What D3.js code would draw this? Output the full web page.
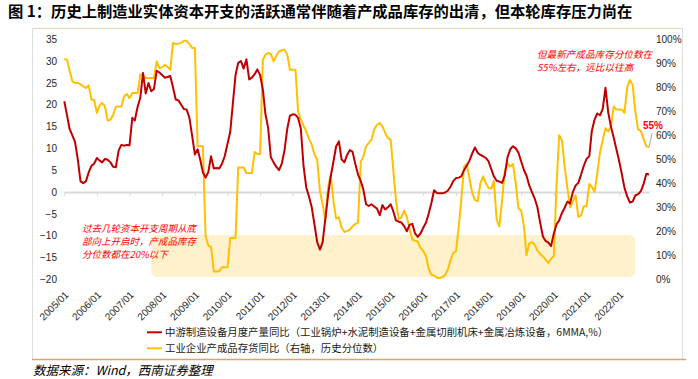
<!DOCTYPE html>
<html>
<head>
<meta charset="utf-8">
<style>
  body { margin: 0; background: #fff; }
  svg { display: block; }
</style>
</head>
<body>
<svg width="698" height="379"></svg>
<script src="https://d3js.org/d3.v7.min.js"></script>
<script>
// monthly, 2005/01 .. 2022/12
var months = d3.timeMonth.range(new Date(2005, 0, 1), new Date(2023, 0, 1));

var yearLabels = ["2005/01","2006/01","2007/01","2008/01","2009/01","2010/01","2011/01","2012/01","2013/01",
  "2014/01","2015/01","2016/01","2017/01","2018/01","2019/01","2020/01","2021/01","2022/01"];

// 中游制造设备月度产量同比 (6MMA, %) - left axis
var equipYoY = [
  20.8,17.5,14.5,13,11.5,7.5,2.5,2.0,2.5,4.5,6,6.5,
  7.8,7.2,6.8,7.6,7.4,6.8,5.8,5.7,9.5,10.8,10.6,10.8,
  10.7,17.0,16.4,19.5,21.6,27.3,22.6,25.0,23.1,23.6,27.8,27.4,
  26.8,26.2,26.4,26.6,24.0,21.2,21.0,20.0,19.0,18.9,17.0,13.0,
  8.6,9.8,7.5,4.5,3.3,4.6,8.2,5.4,5.5,5.4,6.5,8.2,
  11.0,13.8,20.0,26.8,29.6,30.0,28.3,30.4,25.8,26.2,27.0,28.1,
  26.8,23.5,18.0,14.7,8.0,6.8,5.8,5.0,6.5,9.5,14.5,17.5,
  17.8,17.7,17.0,14.5,6.0,1.0,-1.0,-3.5,-7.5,-11.5,-13.2,-11.5,
  -6.0,-0.5,3.5,7.0,10.5,11.6,7.5,6.8,8.5,9.6,9.2,6.5,
  4.0,2.5,0.6,-2.8,-3.2,-2.8,-3.3,-3.8,-5.3,-3.0,-4.0,-3.5,
  -2.8,-4.5,-6.5,-6.8,-7.0,-7.8,-9.0,-7.5,-7.3,-9.5,-10.3,-9.5,
  -8.2,-7.0,-5.0,-2.5,0.4,-0.2,-0.3,-0.3,-0.1,0.3,1.2,2.5,
  3.2,3.3,3.6,5.0,6.0,7.2,8.8,10.2,9.0,8.5,8.2,7.8,
  7.0,5.2,3.6,2.6,2.4,2.1,3.8,8.0,9.8,10.5,10.0,9.0,
  7.0,5.0,3.8,1.5,0.0,-1.5,-3.5,-7.0,-10.2,-11.2,-11.6,-12.4,
  -9.5,-7.4,-6.5,-4.8,-3.6,-2.2,-2.6,0.0,1.5,2.1,4.0,6.0,
  7.6,8.2,14.0,16.6,18.0,17.6,19.0,23.9,18.2,15.0,12.5,9.8,
  7.1,4.0,1.0,-1.0,-2.4,-2.2,-0.8,-0.5,0.2,1.8,4.2,4.0
];

// 工业企业产成品存货同比 历史分位数 (%) - right axis
var inventoryPct = [
  91.8,91.5,87,82.5,81.8,81.8,81.2,80.4,79.7,80.8,74.8,74.8,
  69.3,72.5,73.5,72.0,66.1,66.5,68.5,71.8,72.0,72.0,76.2,77.2,
  75.5,77.6,77.6,77.6,85.3,85.0,83.9,83.9,83.9,83.9,90.8,88.0,
  88.3,89.4,88.5,87.3,98.5,98.0,98.2,98.5,99.4,99.4,98.0,96.4,
  96.4,55.4,55.4,55.4,17.9,14.0,13.5,3.3,3.3,3.4,5.0,5.0,
  5.0,17.2,17.2,17.2,46.6,46.6,46.6,44.3,44.3,44.3,53.0,52.2,
  52.2,91.5,93.5,94.3,93.9,90.8,93.0,95.0,95.5,95.7,93.6,87.3,
  87.3,87.3,70.0,66.5,64.0,61.6,58.5,56.1,52.0,49.8,36.6,31.1,
  24.8,38.7,43.6,32.5,25.3,25.8,21.5,19.7,20.2,20.7,22.1,23.0,
  23.7,49.1,51.0,55.4,56.8,58.2,62.5,64.4,65.1,63.7,61.0,58.9,
  58.2,45.0,33.0,25.0,25.8,28.6,26.0,21.0,16.5,16.1,15.8,13.0,
  11.9,9.5,4.5,1.9,1.6,0.6,0.5,0.8,1.8,4.0,8.0,10.9,
  11.6,22.0,33.0,47.0,48.0,42.0,36.0,33.0,32.5,40.0,42.9,40.0,
  38.0,37.8,41.0,25.0,22.0,33.0,45.0,48.4,47.0,48.0,40.0,29.5,
  28.6,22.0,10.0,15.0,15.5,14.4,12.0,10.5,9.6,8.2,6.8,8.5,
  9.6,40.0,60.0,58.0,47.0,38.0,30.0,32.5,35.0,26.0,26.5,30.4,
  30.4,39.7,38.5,36.5,44.0,53.0,58.0,63.0,61.6,63.7,72.0,70.7,
  70.7,70.6,69.3,80.0,83.0,81.0,70.0,62.5,61.8,58.5,55.5,55.0
];

var leftTicks = [-20,-15,-10,-5,0,5,10,15,20,25,30,35];
var rightTicks = [0,10,20,30,40,50,60,70,80,90,100];

var seriesNames = [
  "中游制造设备月度产量同比（工业锅炉+水泥制造设备+金属切削机床+金属冶炼设备，6MMA,%）",
  "工业企业产成品存货同比（右轴，历史分位数）"
];
var colors = ["#C00000", "#FFC000"];

var titleText = "图 1：历史上制造业实体资本开支的活跃通常伴随着产成品库存的出清，但本轮库存压力尚在";
var noteLeft = ["过去几轮资本开支周期从底", "部向上开启时，产成品库存", "分位数都在20%以下"];
var noteRight = ["但最新产成品库存分位数在", "55%左右，远比以往高"];
var sourceText = "数据来源：Wind，西南证券整理";

var cjk = "'Noto Sans CJK SC', sans-serif";
var latin = "'Liberation Sans', Arial, sans-serif";

var svg = d3.select("svg");

var x = d3.scaleTime()
    .domain([months[0], months[months.length - 1]])
    .range([64.3, 649]);
var yL = d3.scaleLinear().domain([-20, 35]).range([279.3, 39.3]);
var yR = d3.scaleLinear().domain([0, 100]).range([279.3, 39.3]);

// title
svg.append("text")
    .attr("x", 8).attr("y", 17)
    .style("font-family", cjk).style("font-size", "15.3px").style("font-weight", "bold")
    .attr("fill", "#000")
    .text(titleText);

// frame
svg.append("line").attr("x1", 32).attr("x2", 682).attr("y1", 28.5).attr("y2", 28.5)
    .attr("stroke", "#E6D4B6").attr("stroke-width", 1);
svg.append("line").attr("x1", 32.5).attr("x2", 32.5).attr("y1", 28).attr("y2", 359)
    .attr("stroke", "#DDDDDD").attr("stroke-width", 1);
svg.append("line").attr("x1", 682.5).attr("x2", 682.5).attr("y1", 28).attr("y2", 359)
    .attr("stroke", "#DDDDDD").attr("stroke-width", 1);
svg.append("line").attr("x1", 32).attr("x2", 686).attr("y1", 359.5).attr("y2", 359.5)
    .attr("stroke", "#D8A56C").attr("stroke-width", 1.6);

// shaded zone: low inventory percentile
svg.append("rect")
    .attr("x", x(new Date(2007, 8, 1)))
    .attr("width", x(new Date(2022, 6, 1)) - x(new Date(2007, 8, 1)))
    .attr("y", yR(18.5))
    .attr("height", yR(1) - yR(18.5))
    .attr("rx", 6)
    .attr("fill", "#FFF1CC");

// zero axis with year ticks
var zeroAxis = svg.append("g")
    .attr("transform", "translate(0," + yL(0) + ")")
    .call(d3.axisBottom(x).ticks(d3.timeYear.every(1)).tickSize(4).tickSizeOuter(0).tickFormat(""));
zeroAxis.select(".domain").attr("stroke", "#D9D9D9").attr("stroke-width", 2);
zeroAxis.selectAll(".tick line").attr("stroke", "#D9D9D9").attr("stroke-width", 1);

// year labels at bottom
var yearTicks = yearLabels.map(function(s) {
  var p = s.split("/");
  return new Date(+p[0], +p[1] - 1, 1);
});
var xLab = svg.append("g")
    .attr("transform", "translate(0," + 289 + ")")
    .call(d3.axisBottom(x).tickValues(yearTicks).tickSize(0).tickPadding(0)
      .tickFormat(function(d, i) { return yearLabels[i]; }));
xLab.select(".domain").remove();
xLab.selectAll("text")
    .attr("y", 0).attr("dy", "0.35em").attr("x", 0)
    .attr("transform", "translate(2,4) rotate(-45)")
    .style("text-anchor", "end")
    .style("font-family", latin).style("font-size", "10px")
    .attr("fill", "#262626");

// left axis
var axL = svg.append("g")
    .attr("transform", "translate(60,0)")
    .call(d3.axisLeft(yL).tickValues(leftTicks).tickSize(0).tickPadding(3));
axL.select(".domain").remove();
axL.selectAll("text").style("font-family", latin).style("font-size", "10px").attr("fill", "#262626");

// right axis
var axR = svg.append("g")
    .attr("transform", "translate(653,0)")
    .call(d3.axisRight(yR).tickValues(rightTicks).tickSize(0).tickPadding(3)
      .tickFormat(function(d) { return d + "%"; }));
axR.select(".domain").remove();
axR.selectAll("text").style("font-family", latin).style("font-size", "10px").attr("fill", "#262626");

// lines
var lineL = d3.line().x(function(d, i) { return x(months[i]); }).y(function(d) { return yL(d); });
var lineR = d3.line().x(function(d, i) { return x(months[i]); }).y(function(d) { return yR(d); });

svg.append("path").datum(inventoryPct)
    .attr("fill", "none").attr("stroke", colors[1]).attr("stroke-width", 2)
    .attr("stroke-linejoin", "round").attr("d", lineR);
svg.append("path").datum(equipYoY)
    .attr("fill", "none").attr("stroke", colors[0]).attr("stroke-width", 2)
    .attr("stroke-linejoin", "round").attr("d", lineL);

// annotations
var nl = svg.append("text")
    .style("font-family", cjk).style("font-size", "9.5px").style("font-style", "italic")
    .attr("fill", "#FF0000");
noteLeft.forEach(function(t, i) {
  nl.append("tspan").attr("x", 82).attr("y", 232 + i * 13).text(t);
});
var nr = svg.append("text")
    .style("font-family", cjk).style("font-size", "9.6px").style("font-style", "italic")
    .attr("fill", "#FF0000");
noteRight.forEach(function(t, i) {
  nr.append("tspan").attr("x", 537).attr("y", 58 + i * 13).text(t);
});

// last-value callout
var lastX = x(months[months.length - 1]), lastY = yR(inventoryPct[inventoryPct.length - 1]);
svg.append("line")
    .attr("x1", lastX).attr("y1", lastY)
    .attr("x2", lastX + 3).attr("y2", lastY - 14)
    .attr("stroke", "#A6A6A6").attr("stroke-width", 1);
svg.append("text")
    .attr("x", lastX - 6).attr("y", lastY - 18)
    .style("font-family", latin).style("font-size", "10px").style("font-weight", "bold")
    .attr("fill", "#FF0000")
    .text("55%");

// legend
var leg = svg.append("g");
seriesNames.forEach(function(name, i) {
  var ly = 332.3 + i * 16;
  leg.append("line").attr("x1", 147).attr("x2", 162).attr("y1", ly).attr("y2", ly)
      .attr("stroke", colors[i]).attr("stroke-width", 2);
  leg.append("text").attr("x", 165).attr("y", ly).attr("dy", "0.35em")
      .style("font-family", cjk).style("font-size", "10.4px")
      .attr("fill", "#1a1a1a")
      .text(name);
});

// source
svg.append("text")
    .attr("x", 33).attr("y", 375)
    .style("font-family", cjk).style("font-size", "12.5px").style("font-style", "italic")
    .attr("fill", "#000")
    .text(sourceText);
</script>
</body>
</html>
